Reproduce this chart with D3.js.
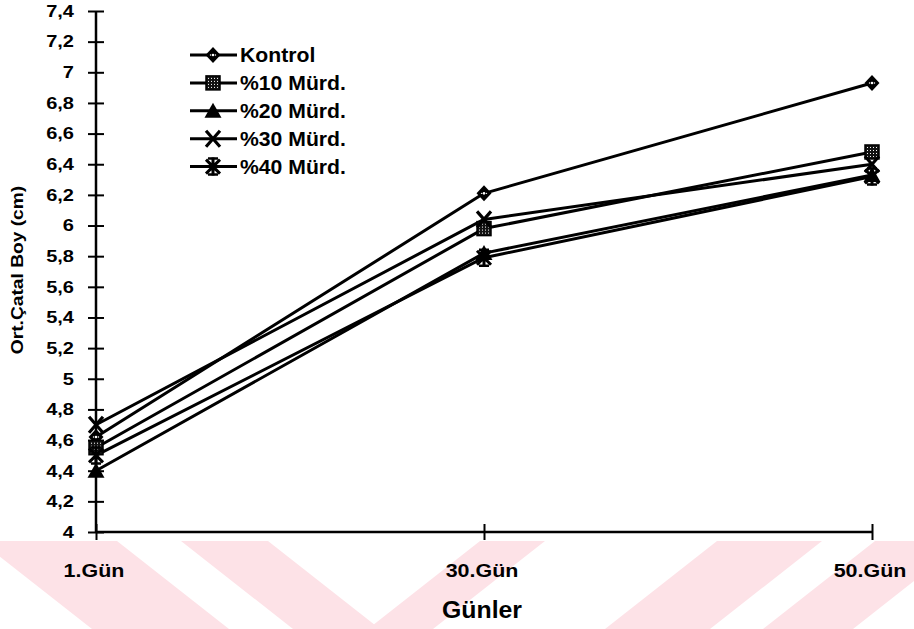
<!DOCTYPE html>
<html>
<head>
<meta charset="utf-8">
<script src="https://cdn.jsdelivr.net/npm/d3@7"></script>
<style>
html,body{margin:0;padding:0;background:#fff;}
svg{display:block;}
text{font-family:"Liberation Sans",Arial,sans-serif;font-weight:bold;fill:#000;}
</style>
</head>
<body>
<svg id="chart" width="914" height="629"></svg>
<script>
// ---- data ----
const categories = ["1.Gün", "30.Gün", "50.Gün"];
const seriesNames = ["Kontrol", "%10 Mürd.", "%20 Mürd.", "%30 Mürd.", "%40 Mürd."];
const kontrol = [4.62, 6.21, 6.93];
const murd10  = [4.55, 5.98, 6.48];
const murd20  = [4.40, 5.82, 6.33];
const murd30  = [4.70, 6.04, 6.40];
const murd40  = [4.50, 5.79, 6.32];
const yTicks = [4, 4.2, 4.4, 4.6, 4.8, 5, 5.2, 5.4, 5.6, 5.8, 6, 6.2, 6.4, 6.6, 6.8, 7, 7.2, 7.4];
const yTickLabels = ["4","4,2","4,4","4,6","4,8","5","5,2","5,4","5,6","5,8","6","6,2","6,4","6,6","6,8","7","7,2","7,4"];
const xTitle = "Günler";
const yTitle = "Ort.Çatal Boy (cm)";

const seriesValues = [kontrol, murd10, murd20, murd30, murd40];
const markerTypes = ["diamond", "square", "triangle", "x", "asterisk"];

// ---- layout ----
const svg = d3.select("#chart");
const x = d3.scalePoint().domain(categories).range([96, 872]);
const y = d3.scaleLinear().domain([4, 7.4]).range([532, 11]);

// decorative watermark stripes (background)
const stripes = [
  {t0: -20, t1: 117, d: 112},
  {t0: 181, t1: 268, d: 112},
  {t0: 480, t1: 545, d: -112},
  {t0: 717, t1: 822, d: -112},
  {t0: 875, t1: 965, d: -112}
];
const bandTop = 541, bandBot = 629;
svg.append("g").selectAll("path").data(stripes).join("path")
  .attr("d", s => `M${s.t0},${bandTop}L${s.t1},${bandTop}L${s.t1 + s.d},${bandBot}L${s.t0 + s.d},${bandBot}Z`)
  .attr("fill", "#fde2e7");

// patterns
const defs = svg.append("defs");
const pat = defs.append("pattern").attr("id", "dots").attr("width", 3).attr("height", 3)
  .attr("patternUnits", "userSpaceOnUse");
pat.append("rect").attr("width", 3).attr("height", 3).attr("fill", "#111");
pat.append("rect").attr("x", 1).attr("y", 1).attr("width", 1).attr("height", 1).attr("fill", "#fff");

function addText(g, tx, ty, str, size, anchor, sx, rot) {
  let tr = `translate(${tx},${ty})`;
  if (rot) tr += ` rotate(${rot})`;
  tr += ` scale(${sx},1)`;
  return g.append("text").attr("transform", tr)
    .attr("font-size", size).attr("text-anchor", anchor).text(str);
}

function drawMarker(g, type) {
  if (type === "diamond") {
    g.append("path").attr("d", "M0,-8L7.5,0L0,8L-7.5,0Z").attr("fill", "#000");
    g.append("circle").attr("r", 1.3).attr("fill", "#fff");
    g.append("circle").attr("cx", -2.5).attr("r", 0.7).attr("fill", "#fff");
    g.append("circle").attr("cx", 2.5).attr("r", 0.7).attr("fill", "#fff");
  } else if (type === "square") {
    g.append("rect").attr("x", -7).attr("y", -7).attr("width", 14).attr("height", 14)
      .attr("fill", "url(#dots)").attr("stroke", "#000").attr("stroke-width", 1.5);
  } else if (type === "triangle") {
    g.append("path").attr("d", "M0,-8L8.5,7L-8.5,7Z").attr("fill", "#000");
  } else if (type === "x") {
    g.append("path").attr("d", "M-7,-8L7,8M7,-8L-7,8").attr("stroke", "#000").attr("stroke-width", 3.2).attr("fill", "none");
  } else if (type === "asterisk") {
    g.append("path").attr("d", "M-7,-7L7,7M7,-7L-7,7M0,-9L0,9").attr("stroke", "#000").attr("stroke-width", 3).attr("fill", "none");
    g.append("path").attr("d", "M-5,-8L5,-8M-5,8L5,8").attr("stroke", "#000").attr("stroke-width", 2.5);
  }
}

// ---- axes ----
const axG = svg.append("g");
const yAxis = d3.axisLeft(y).tickValues(yTicks).tickSize(0).tickFormat("");
const yg = axG.append("g").attr("transform", "translate(96,0)").call(yAxis);
yg.select(".domain").attr("stroke", "#000").attr("stroke-width", 2.5).attr("d", `M0,${y(7.4)}V${y(4)}`);
yg.selectAll(".tick").append("line").attr("x1", -8).attr("x2", 8).attr("stroke", "#000").attr("stroke-width", 2);

const xAxis = d3.axisBottom(x).tickSize(0).tickFormat("");
const xg = axG.append("g").attr("transform", `translate(0,${y(4)})`).call(xAxis);
xg.select(".domain").attr("stroke", "#000").attr("stroke-width", 2.5).attr("d", `M${x(categories[0])},0H${x(categories[2])}`);
xg.selectAll(".tick").append("line").attr("y1", -8).attr("y2", 8).attr("stroke", "#000").attr("stroke-width", 2);

// tick labels
const labG = svg.append("g");
yTicks.forEach((v, i) => addText(labG, 74, y(v) + 5.8, yTickLabels[i], 16, "end", 1.25));
categories.forEach(c => addText(labG, x(c) - 2, 577, c, 19, "middle", 1.13));
addText(labG, 482, 618, xTitle, 23, "middle", 1.08);
addText(labG, 23, 270, yTitle, 16, "middle", 1.2, -90);

// ---- series ----
const line = d3.line().x((d, i) => x(categories[i])).y(d => y(d));
const serG = svg.append("g");
seriesValues.forEach((vals, si) => {
  serG.append("path").attr("d", line(vals)).attr("fill", "none")
    .attr("stroke", "#000").attr("stroke-width", 3).attr("stroke-linejoin", "round");
});
seriesValues.forEach((vals, si) => {
  vals.forEach((v, i) => {
    const mg = serG.append("g").attr("transform", `translate(${x(categories[i])},${y(v)})`);
    drawMarker(mg, markerTypes[si]);
  });
});

// ---- legend ----
const legG = svg.append("g");
seriesNames.forEach((name, i) => {
  const ry = 55 + i * 27.9;
  legG.append("line").attr("x1", 190).attr("x2", 237).attr("y1", ry).attr("y2", ry)
    .attr("stroke", "#000").attr("stroke-width", 3);
  drawMarker(legG.append("g").attr("transform", `translate(213,${ry})`), markerTypes[i]);
  addText(legG, 240, ry + 7, name, 20, "start", 1.06);
});
</script>
</body>
</html>
